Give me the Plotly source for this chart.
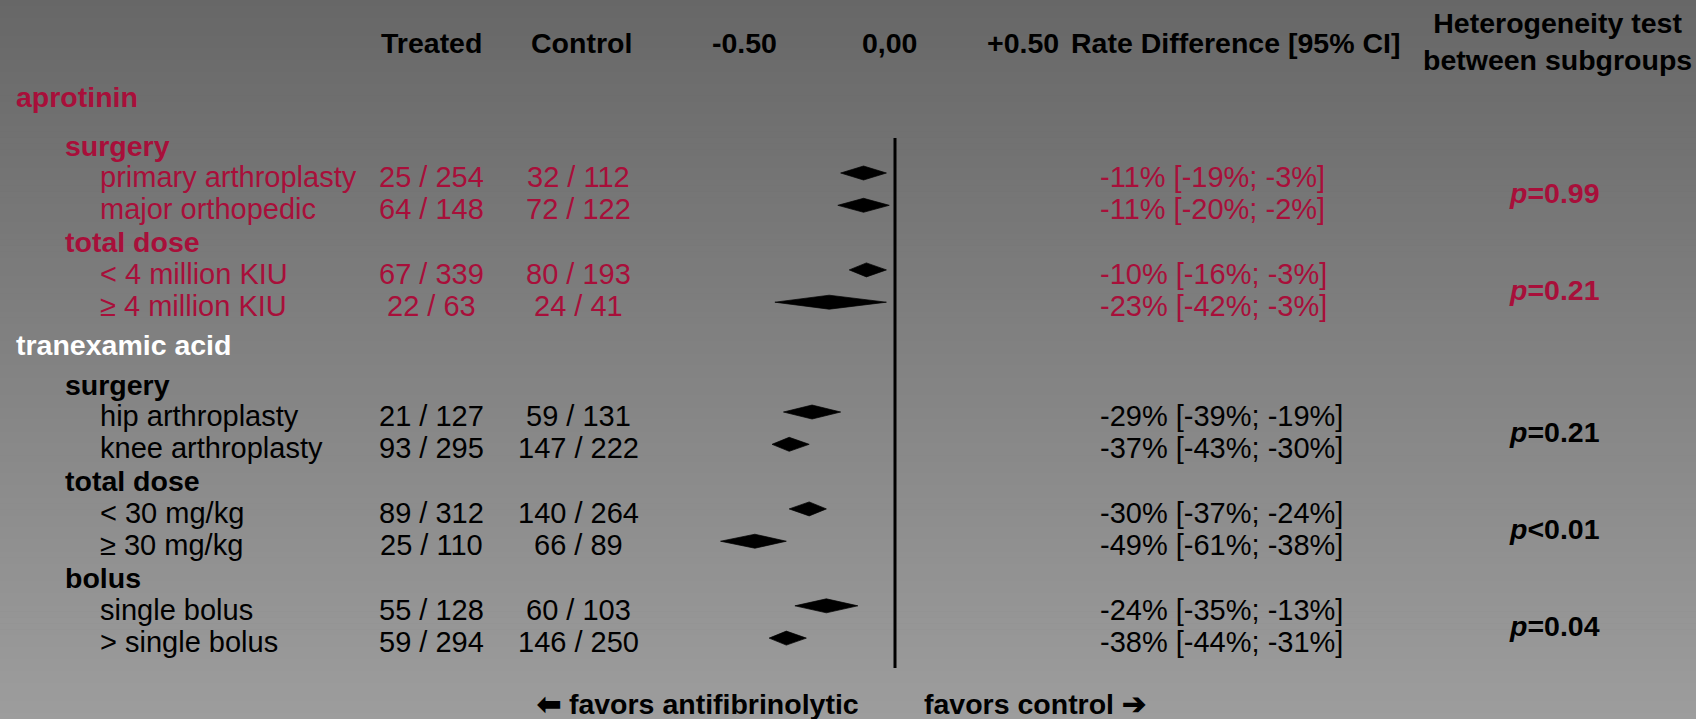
import plotly.graph_objects as go

# ---------------------------------------------------------------- data
drugs = ["aprotinin", "tranexamic acid"]

factors = ["surgery", "total dose", "surgery", "total dose", "bolus"]
factor_drug = [0, 0, 1, 1, 1]

subgroups = [
    "primary arthroplasty", "major orthopedic",
    "< 4 million KIU", "\u2265 4 million KIU",
    "hip arthroplasty", "knee arthroplasty",
    "< 30 mg/kg", "\u2265 30 mg/kg",
    "single bolus", "> single bolus",
]
subgroup_factor = [0, 0, 1, 1, 2, 2, 3, 3, 4, 4]

treated_events = [25, 64, 67, 22, 21, 93, 89, 25, 55, 59]
treated_totals = [254, 148, 339, 63, 127, 295, 312, 110, 128, 294]
control_events = [32, 72, 80, 24, 59, 147, 140, 66, 60, 146]
control_totals = [112, 122, 193, 41, 131, 222, 264, 89, 103, 250]

rd_estimate = [-0.11, -0.11, -0.10, -0.23, -0.29, -0.37, -0.30, -0.49, -0.24, -0.38]
rd_lower = [-0.19, -0.20, -0.16, -0.42, -0.39, -0.43, -0.37, -0.61, -0.35, -0.44]
rd_upper = [-0.03, -0.02, -0.03, -0.03, -0.19, -0.30, -0.24, -0.38, -0.13, -0.31]

heterogeneity_p = ["=0.99", "=0.21", "=0.21", "<0.01", "=0.04"]

axis_ticks = [-0.5, 0.0, 0.5]
axis_tick_labels = ["-0.50", "0,00", "+0.50"]

# ---------------------------------------------------------------- layout
W, H = 1696, 719
ZERO_PX = 895            # horizontal pixel of the no-effect line
PX_PER_UNIT = 286        # pixels per unit of rate difference
ROW0, PITCH = 177, 32.3  # vertical position of first subgroup row, row pitch

drug_slot = [-2.48, 5.2]
factor_slot = [-0.96, 2.0, 6.45, 9.4, 12.4]
subgroup_slot = [0, 1, 3, 4, 7.4, 8.4, 10.4, 11.4, 13.4, 14.4]

HEADER_Y = 43
HET_Y = 41
FOOTER_Y = 704

COL_LABEL = [14, 63, 98]
COL_TREATED = 431
COL_CONTROL = 578
COL_RD = 1098
COL_P = 1507
COL_HET = 1557

RED = "#a80f3a"
BLACK = "#000000"
WHITE = "#ffffff"
FONT = "Liberation Sans, Arial, sans-serif"
FS = 29
FS_B = 28.5

drug_color = [RED, WHITE]
body_color = [RED, BLACK]


def row_y(slot):
    return ROW0 + slot * PITCH


def px(x):
    return x / W


fig = go.Figure()
annotations = []


def text(x, y, s, color=BLACK, bold=False, anchor="left", xref="paper", xshift=0, size=None):
    annotations.append(dict(
        x=x, y=y, xref=xref, yref="y", text=f"<b>{s}</b>" if bold else s,
        showarrow=False, xanchor=anchor, yanchor="middle", xshift=xshift,
        font=dict(family=FONT, size=size or (FS_B if bold else FS), color=color),
    ))


# header row
text(px(COL_TREATED), HEADER_Y, "Treated", bold=True, anchor="center")
text(px(COL_CONTROL + 3), HEADER_Y, "Control", bold=True, anchor="center")
tick_shift = [-8, -6, -15]
for t, lab, sh in zip(axis_ticks, axis_tick_labels, tick_shift):
    text(t, HEADER_Y, lab, bold=True, anchor="center", xref="x", xshift=sh)
text(px(1069), HEADER_Y, "Rate Difference [95% CI]", bold=True)
text(px(COL_HET), HET_Y, "Heterogeneity test<br>between subgroups", bold=True, anchor="center")

# drug headings
for d, name in enumerate(drugs):
    text(px(COL_LABEL[0]), row_y(drug_slot[d]), name, color=drug_color[d], bold=True)

# factor headings and heterogeneity p-values
for f, name in enumerate(factors):
    col = body_color[factor_drug[f]]
    text(px(COL_LABEL[1]), row_y(factor_slot[f]), name, color=col, bold=True)
    members = [i for i, g in enumerate(subgroup_factor) if g == f]
    y_mid = sum(row_y(subgroup_slot[i]) for i in members) / len(members)
    text(px(COL_P), y_mid, f"<i>p</i>{heterogeneity_p[f]}", color=col, bold=True)

# subgroup rows
for i, name in enumerate(subgroups):
    col = body_color[factor_drug[subgroup_factor[i]]]
    y = row_y(subgroup_slot[i])
    text(px(COL_LABEL[2]), y, name, color=col)
    text(px(COL_TREATED), y, f"{treated_events[i]} / {treated_totals[i]}", color=col, anchor="center")
    text(px(COL_CONTROL), y, f"{control_events[i]} / {control_totals[i]}", color=col, anchor="center")
    text(px(COL_RD), y,
         f"{round(rd_estimate[i] * 100)}% [{round(rd_lower[i] * 100)}%; {round(rd_upper[i] * 100)}%]",
         color=col)

    # diamond: tips at the CI limits, widest at the point estimate
    yc = y - 4
    half_h = 7
    fig.add_trace(go.Scatter(
        x=[rd_lower[i], rd_estimate[i], rd_upper[i], rd_estimate[i], rd_lower[i]],
        y=[yc, yc - half_h, yc, yc + half_h, yc],
        mode="lines", fill="toself", fillcolor=BLACK,
        line=dict(color=BLACK, width=0.7), hoverinfo="skip", showlegend=False,
    ))

# footer
text(px(861), FOOTER_Y, "\u2B05 favors antifibrinolytic", bold=True, anchor="right")
text(px(922), FOOTER_Y, "favors control \u2794", bold=True)

# gradient background built from thin horizontal bands
shapes = []
N_BANDS = 120
TOP_GRAY, BOTTOM_GRAY = 103, 157
for b in range(N_BANDS):
    g = round(TOP_GRAY + (BOTTOM_GRAY - TOP_GRAY) * (b + 0.5) / N_BANDS)
    shapes.append(dict(
        type="rect", xref="paper", yref="paper", x0=0, x1=1,
        y0=1 - (b + 1) / N_BANDS - 0.001, y1=1 - b / N_BANDS,
        fillcolor=f"rgb({g},{g},{g})", line=dict(width=0), layer="below",
    ))

# no-effect line
shapes.append(dict(
    type="line", xref="x", yref="y", x0=0, x1=0, y0=138, y1=668,
    line=dict(color=BLACK, width=3), layer="above",
))

fig.update_layout(
    width=W, height=H, autosize=False,
    margin=dict(l=0, r=0, t=0, b=0, pad=0),
    paper_bgcolor="rgb(130,130,130)", plot_bgcolor="rgba(0,0,0,0)",
    xaxis=dict(range=[-ZERO_PX / PX_PER_UNIT, (W - ZERO_PX) / PX_PER_UNIT],
               visible=False, fixedrange=True),
    yaxis=dict(range=[H, 0], visible=False, fixedrange=True),
    shapes=shapes, annotations=annotations, showlegend=False,
)

fig.write_html("out.html", config={"displayModeBar": False})
